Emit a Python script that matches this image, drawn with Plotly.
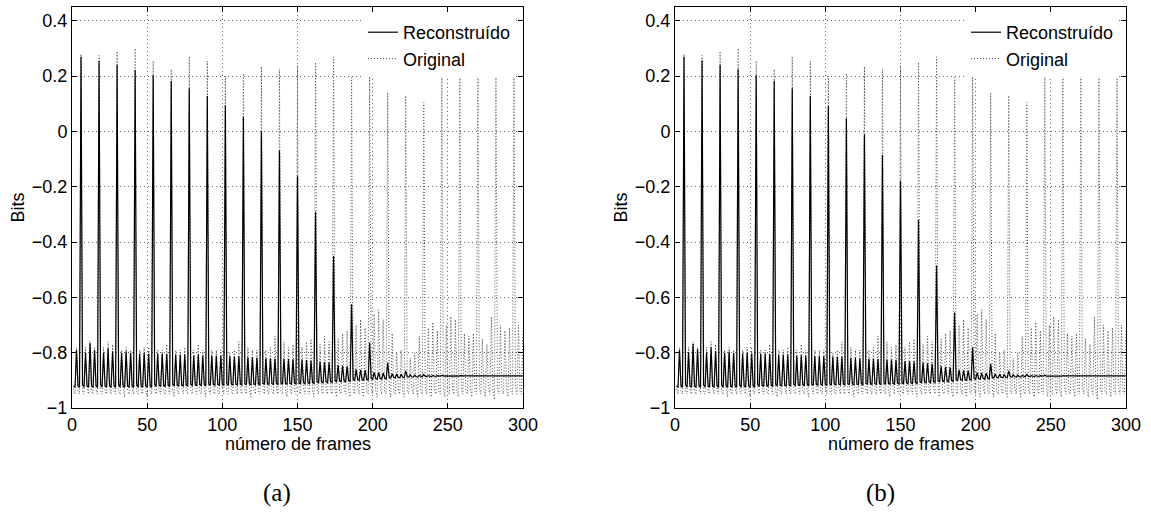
import plotly.graph_objects as go

# Frame index (1..300) and per-frame bit values, one row per 12-frame GOP
frames = list(range(1, 301))

reconstruido_a = [
    -0.920, -0.925, -0.790, -0.920, -0.925, 0.270, -0.915, -0.925, -0.800, -0.920, -0.925, -0.765,
    -0.920, -0.925, -0.790, -0.920, -0.925, 0.255, -0.915, -0.925, -0.800, -0.920, -0.925, -0.784,
    -0.920, -0.925, -0.795, -0.920, -0.925, 0.240, -0.915, -0.925, -0.800, -0.920, -0.925, -0.795,
    -0.920, -0.925, -0.800, -0.920, -0.925, 0.222, -0.915, -0.925, -0.804, -0.920, -0.925, -0.800,
    -0.920, -0.925, -0.804, -0.920, -0.925, 0.203, -0.915, -0.922, -0.804, -0.918, -0.922, -0.804,
    -0.918, -0.922, -0.804, -0.918, -0.922, 0.182, -0.915, -0.920, -0.807, -0.918, -0.920, -0.807,
    -0.918, -0.920, -0.807, -0.918, -0.920, 0.156, -0.914, -0.920, -0.810, -0.916, -0.920, -0.808,
    -0.916, -0.920, -0.810, -0.916, -0.920, 0.128, -0.914, -0.918, -0.810, -0.915, -0.918, -0.811,
    -0.915, -0.918, -0.811, -0.915, -0.918, 0.095, -0.913, -0.917, -0.813, -0.914, -0.917, -0.813,
    -0.914, -0.917, -0.814, -0.914, -0.917, 0.052, -0.912, -0.916, -0.817, -0.913, -0.916, -0.817,
    -0.913, -0.916, -0.818, -0.913, -0.916, 0.000, -0.911, -0.915, -0.820, -0.912, -0.915, -0.820,
    -0.912, -0.915, -0.821, -0.912, -0.915, -0.069, -0.910, -0.914, -0.822, -0.911, -0.914, -0.823,
    -0.911, -0.914, -0.824, -0.910, -0.913, -0.162, -0.909, -0.912, -0.826, -0.909, -0.912, -0.827,
    -0.909, -0.912, -0.828, -0.908, -0.911, -0.290, -0.906, -0.909, -0.832, -0.906, -0.909, -0.834,
    -0.906, -0.909, -0.836, -0.905, -0.908, -0.450, -0.902, -0.905, -0.845, -0.902, -0.905, -0.847,
    -0.902, -0.905, -0.849, -0.901, -0.904, -0.625, -0.897, -0.900, -0.860, -0.897, -0.900, -0.862,
    -0.897, -0.900, -0.863, -0.896, -0.899, -0.763, -0.893, -0.896, -0.871, -0.893, -0.896, -0.872,
    -0.893, -0.896, -0.873, -0.892, -0.895, -0.836, -0.889, -0.891, -0.876, -0.889, -0.891, -0.877,
    -0.889, -0.891, -0.878, -0.889, -0.890, -0.866, -0.887, -0.888, -0.880, -0.887, -0.888, -0.881,
    -0.887, -0.888, -0.882, -0.886, -0.887, -0.878, -0.886, -0.886, -0.883, -0.885, -0.886, -0.883,
    -0.885, -0.886, -0.883, -0.885, -0.885, -0.882, -0.885, -0.885, -0.884, -0.885, -0.885, -0.884,
    -0.885, -0.885, -0.884, -0.885, -0.885, -0.883, -0.884, -0.885, -0.884, -0.884, -0.885, -0.884,
    -0.884, -0.885, -0.884, -0.884, -0.884, -0.884, -0.884, -0.884, -0.884, -0.884, -0.884, -0.884,
    -0.884, -0.884, -0.884, -0.884, -0.884, -0.884, -0.884, -0.884, -0.884, -0.884, -0.884, -0.884,
    -0.884, -0.884, -0.884, -0.884, -0.884, -0.884, -0.884, -0.884, -0.884, -0.884, -0.884, -0.884,
]

reconstruido_b = [
    -0.920, -0.925, -0.790, -0.920, -0.925, 0.270, -0.915, -0.925, -0.798, -0.920, -0.925, -0.768,
    -0.920, -0.925, -0.788, -0.920, -0.925, 0.257, -0.915, -0.925, -0.800, -0.920, -0.925, -0.780,
    -0.920, -0.925, -0.794, -0.920, -0.925, 0.240, -0.915, -0.925, -0.800, -0.920, -0.925, -0.796,
    -0.920, -0.925, -0.800, -0.920, -0.925, 0.225, -0.915, -0.925, -0.803, -0.920, -0.925, -0.800,
    -0.920, -0.925, -0.803, -0.920, -0.925, 0.203, -0.915, -0.922, -0.805, -0.918, -0.922, -0.804,
    -0.918, -0.922, -0.805, -0.918, -0.922, 0.182, -0.915, -0.920, -0.808, -0.918, -0.920, -0.807,
    -0.918, -0.920, -0.808, -0.918, -0.920, 0.156, -0.914, -0.920, -0.811, -0.916, -0.920, -0.809,
    -0.916, -0.920, -0.811, -0.916, -0.920, 0.128, -0.914, -0.918, -0.812, -0.915, -0.918, -0.812,
    -0.915, -0.918, -0.813, -0.915, -0.918, 0.092, -0.913, -0.917, -0.815, -0.914, -0.917, -0.815,
    -0.914, -0.917, -0.816, -0.914, -0.917, 0.048, -0.912, -0.916, -0.819, -0.913, -0.916, -0.819,
    -0.913, -0.916, -0.820, -0.913, -0.916, -0.011, -0.911, -0.915, -0.822, -0.912, -0.915, -0.822,
    -0.912, -0.915, -0.823, -0.912, -0.915, -0.085, -0.910, -0.914, -0.825, -0.911, -0.914, -0.826,
    -0.911, -0.914, -0.827, -0.910, -0.913, -0.180, -0.909, -0.912, -0.830, -0.909, -0.912, -0.831,
    -0.909, -0.912, -0.832, -0.908, -0.911, -0.320, -0.906, -0.909, -0.836, -0.906, -0.909, -0.838,
    -0.906, -0.909, -0.840, -0.905, -0.908, -0.485, -0.902, -0.905, -0.849, -0.902, -0.905, -0.851,
    -0.902, -0.905, -0.853, -0.901, -0.904, -0.655, -0.897, -0.900, -0.862, -0.897, -0.900, -0.864,
    -0.897, -0.900, -0.865, -0.896, -0.899, -0.780, -0.893, -0.896, -0.872, -0.893, -0.896, -0.873,
    -0.893, -0.896, -0.874, -0.892, -0.895, -0.840, -0.889, -0.891, -0.877, -0.889, -0.891, -0.878,
    -0.889, -0.891, -0.879, -0.889, -0.890, -0.866, -0.887, -0.888, -0.880, -0.887, -0.888, -0.881,
    -0.887, -0.888, -0.882, -0.886, -0.887, -0.877, -0.886, -0.886, -0.883, -0.885, -0.886, -0.883,
    -0.885, -0.886, -0.883, -0.885, -0.885, -0.881, -0.885, -0.885, -0.884, -0.885, -0.885, -0.884,
    -0.885, -0.885, -0.884, -0.885, -0.885, -0.883, -0.884, -0.885, -0.884, -0.884, -0.885, -0.884,
    -0.884, -0.885, -0.884, -0.884, -0.884, -0.884, -0.884, -0.884, -0.884, -0.884, -0.884, -0.884,
    -0.884, -0.884, -0.884, -0.884, -0.884, -0.884, -0.884, -0.884, -0.884, -0.884, -0.884, -0.884,
    -0.884, -0.884, -0.884, -0.884, -0.884, -0.884, -0.884, -0.884, -0.884, -0.884, -0.884, -0.884,
]

original = [
    -0.93, -0.95, -0.78, -0.94, -0.95, 0.280, -0.94, -0.95, -0.78, -0.93, -0.95, -0.76,
    -0.94, -0.95, -0.78, -0.93, -0.95, 0.275, -0.94, -0.95, -0.78, -0.94, -0.95, -0.76,
    -0.93, -0.95, -0.77, -0.94, -0.95, 0.290, -0.94, -0.95, -0.79, -0.93, -0.96, -0.78,
    -0.94, -0.95, -0.79, -0.93, -0.95, 0.300, -0.94, -0.95, -0.79, -0.94, -0.95, -0.78,
    -0.93, -0.96, -0.78, -0.94, -0.95, 0.255, -0.93, -0.95, -0.79, -0.94, -0.95, -0.79,
    -0.94, -0.95, -0.77, -0.93, -0.95, 0.225, -0.94, -0.96, -0.79, -0.94, -0.95, -0.79,
    -0.93, -0.95, -0.78, -0.94, -0.95, 0.270, -0.94, -0.95, -0.79, -0.93, -0.95, -0.77,
    -0.94, -0.95, -0.79, -0.94, -0.96, 0.255, -0.93, -0.95, -0.79, -0.94, -0.95, -0.79,
    -0.94, -0.95, -0.79, -0.93, -0.95, 0.200, -0.94, -0.95, -0.80, -0.94, -0.95, -0.79,
    -0.93, -0.95, -0.76, -0.94, -0.95, 0.210, -0.94, -0.95, -0.78, -0.93, -0.96, -0.79,
    -0.94, -0.95, -0.79, -0.94, -0.95, 0.235, -0.93, -0.95, -0.79, -0.94, -0.95, -0.78,
    -0.94, -0.95, -0.74, -0.93, -0.95, 0.225, -0.94, -0.95, -0.76, -0.94, -0.96, -0.78,
    -0.93, -0.95, -0.77, -0.94, -0.95, 0.240, -0.94, -0.95, -0.78, -0.93, -0.95, -0.76,
    -0.94, -0.95, -0.75, -0.94, -0.96, 0.250, -0.93, -0.95, -0.77, -0.94, -0.95, -0.74,
    -0.94, -0.95, -0.76, -0.93, -0.95, 0.270, -0.94, -0.96, -0.75, -0.94, -0.95, -0.73,
    -0.93, -0.95, -0.72, -0.94, -0.96, 0.195, -0.94, -0.95, -0.70, -0.93, -0.95, -0.68,
    -0.94, -0.96, -0.71, -0.94, -0.95, 0.220, -0.93, -0.95, -0.66, -0.94, -0.96, -0.645,
    -0.93, -0.95, -0.68, -0.94, -0.95, 0.140, -0.93, -0.96, -0.73, -0.94, -0.95, -0.80,
    -0.93, -0.95, -0.79, -0.94, -0.96, 0.130, -0.94, -0.95, -0.82, -0.93, -0.95, -0.80,
    -0.93, -0.96, -0.74, -0.94, -0.95, 0.105, -0.93, -0.95, -0.71, -0.94, -0.96, -0.69,
    -0.93, -0.95, -0.72, -0.94, -0.95, 0.220, -0.93, -0.96, -0.70, -0.94, -0.95, -0.67,
    -0.93, -0.95, -0.68, -0.94, -0.96, 0.220, -0.93, -0.95, -0.73, -0.94, -0.95, -0.74,
    -0.93, -0.96, -0.73, -0.94, -0.95, 0.220, -0.93, -0.95, -0.75, -0.94, -0.96, -0.77,
    -0.93, -0.95, -0.67, -0.94, -0.97, 0.220, -0.93, -0.95, -0.70, -0.94, -0.95, -0.72,
    -0.93, -0.96, -0.71, -0.94, -0.95, 0.210, -0.93, -0.95, -0.70, -0.94, -0.95, -0.72,
]

x_ticks = [0, 50, 100, 150, 200, 250, 300]
y_ticks = [-1, -0.8, -0.6, -0.4, -0.2, 0, 0.2, 0.4]
y_tick_labels = ["\u22121", "\u22120.8", "\u22120.6", "\u22120.4", "\u22120.2", "0", "0.2", "0.4"]
panel_labels = ["(a)", "(b)"]

W, H = 1151, 513
FONT = "Liberation Sans, Arial, sans-serif"
FS = 18


def px_x(p):
    return p / W


def px_y(p):
    return 1 - p / H


fig = go.Figure()

panels = [
    ("x", "y", "legend", reconstruido_a),
    ("x2", "y2", "legend2", reconstruido_b),
]
for xa, ya, lg, rec in panels:
    fig.add_trace(go.Scatter(
        x=frames, y=original, xaxis=xa, yaxis=ya, legend=lg, name="Original",
        mode="lines", line=dict(color="#505050", width=1, dash="1px,2px"),
        legendrank=2,
    ))
    fig.add_trace(go.Scatter(
        x=frames, y=rec, xaxis=xa, yaxis=ya, legend=lg, name="Reconstruído",
        mode="lines", line=dict(color="black", width=1.2),
        legendrank=1,
    ))

# plot-area pixel boxes: (left, right)
boxes = [(72, 523), (675, 1126)]
top_px, bottom_px = 7, 408

axis_common = dict(
    showline=True, linecolor="black", linewidth=1, mirror="ticks",
    ticks="inside", ticklen=5, tickcolor="black", tickwidth=1,
    showgrid=True, gridcolor="#6a6a6a", gridwidth=1, griddash="1px,3px",
    zeroline=False, automargin=False,
    tickfont=dict(family=FONT, size=FS, color="black"),
)

layout_axes = {}
for i, (l, r) in enumerate(boxes):
    sx = "" if i == 0 else str(i + 1)
    layout_axes["xaxis" + sx] = dict(
        axis_common, domain=[px_x(l), px_x(r)], range=[0, 300],
        tickvals=x_ticks, ticktext=[str(v) for v in x_ticks],
        anchor="y" + sx,
    )
    layout_axes["yaxis" + sx] = dict(
        axis_common, domain=[px_y(bottom_px), px_y(top_px)], range=[-1, 0.45],
        tickvals=y_ticks, ticktext=y_tick_labels, anchor="x" + sx,
    )

legend_common = dict(
    bgcolor="white", borderwidth=0, font=dict(family=FONT, size=FS, color="black"),
    xanchor="left", yanchor="top", tracegroupgap=0, itemwidth=30,
)

annotations = []
for i, (l, r) in enumerate(boxes):
    off = l - 72
    annotations.append(dict(
        text="Bits", x=px_x(18 + off), y=px_y((top_px + bottom_px) / 2),
        xref="paper", yref="paper", showarrow=False, textangle=-90,
        xanchor="center", yanchor="middle",
        font=dict(family=FONT, size=FS, color="black"),
    ))
    annotations.append(dict(
        text="número de frames", x=px_x((l + r) / 2), y=px_y(444),
        xref="paper", yref="paper", showarrow=False,
        xanchor="center", yanchor="middle",
        font=dict(family=FONT, size=FS, color="black"),
    ))
    annotations.append(dict(
        text=panel_labels[i], x=px_x(277 + off), y=px_y(493),
        xref="paper", yref="paper", showarrow=False,
        xanchor="center", yanchor="middle",
        font=dict(family="Liberation Serif, serif", size=25, color="black"),
    ))

fig.update_layout(
    width=W, height=H, margin=dict(l=0, r=0, t=0, b=0, autoexpand=False),
    paper_bgcolor="white", plot_bgcolor="white",
    showlegend=True,
    legend=dict(legend_common, x=px_x(363), y=px_y(14)),
    legend2=dict(legend_common, x=px_x(966), y=px_y(14)),
    annotations=annotations,
    **layout_axes,
)

fig.write_html("out.html")
